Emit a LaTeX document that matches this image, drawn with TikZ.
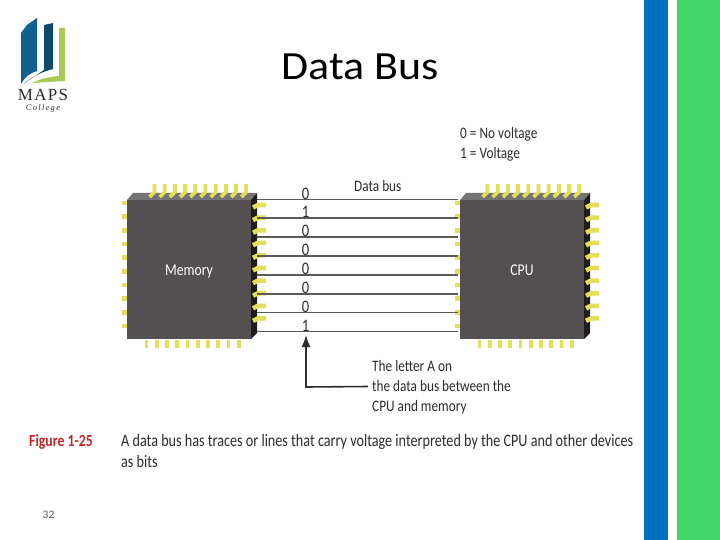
\documentclass[tikz,border=0pt]{standalone}
\usepackage{fontspec}
\setmainfont{Carlito}
\newfontfamily\logofont[LetterSpace=8]{Liberation Serif}
\newfontfamily\logosubfont[LetterSpace=15]{Liberation Serif}
\newfontfamily\condfont[FakeStretch=0.83]{Carlito}
\newfontfamily\capfont[FakeStretch=0.81]{Carlito}
\newfontfamily\wideont[FakeStretch=1.1]{Carlito}
\usetikzlibrary{arrows.meta}
\definecolor{chipfront}{HTML}{545051}
\definecolor{chiptop}{HTML}{757374}
\definecolor{chipside}{HTML}{1E1C1D}
\definecolor{pin}{HTML}{E2DF5A}
\definecolor{busline}{HTML}{5A5A5A}
\definecolor{txt}{HTML}{2E2C2D}
\definecolor{figred}{HTML}{C4262B}
\definecolor{barblue}{HTML}{0070C0}
\definecolor{bargreen}{HTML}{3FD869}
\definecolor{logoblue}{HTML}{0F628F}
\definecolor{logodark}{HTML}{0E4A6C}
\definecolor{logogreen}{HTML}{A9CB55}
\tikzset{
  chip/.style={draw=none,fill=chipfront,inner sep=0pt,minimum width=124pt,minimum height=139pt,text height=11pt,text depth=0pt,text=white,font=\condfont\fontsize{16.5}{16.5}\selectfont},
  pinline/.style={draw=pin,line width=3.8pt},
  sidepin/.style={draw=pin,line width=4.6pt},
  bus/.style={draw=busline,line width=1.5pt},
  bit/.style={inner sep=0pt,text=txt,font=\condfont\fontsize{17.5}{17.5}\selectfont},
  lbl/.style={inner sep=0pt,anchor=west,text=txt,font=\condfont\fontsize{16}{16}\selectfont},
  captext/.style={inner sep=0pt,anchor=west,text=txt,font=\capfont\fontsize{17.5}{17.5}\selectfont},
  pointer/.style={draw=txt,line width=1.6pt,-{Latex[length=12pt,width=9pt]}},
}
\newcommand{\chipbody}[3]{%
  % #1 = front left x, #2 = node name, #3 = label
  \fill[chiptop] (#1,200) -- (#1+6,193) -- (#1+130,193) -- (#1+124,200) -- cycle;
  \fill[chipside] (#1+124,200) -- (#1+130,193) -- (#1+130,333) -- (#1+124,339) -- cycle;
  \foreach \i in {0,...,9} {
    \draw[pinline] (#1+27.5+10.2*\i,184) -- (#1+27.5+10.2*\i,192) -- (#1+22.5+10.2*\i,197);
    \draw[pinline] (#1+19.5+10.25*\i,340) -- (#1+19.5+10.25*\i,348);
    \draw[sidepin] (#1-5,203+13.65*\i) -- (#1+1,203+13.65*\i);
    \draw[sidepin] (#1+126,207.5+12.6*\i) -- (#1+131,205+12.6*\i) -- (#1+139,205+12.6*\i);
  }
  \node[chip] (#2) at (#1+62,269.5) {#3};
}
\begin{document}
\begin{tikzpicture}[x=1pt,y=-1pt]
\useasboundingbox (0,0) rectangle (720,540);
\fill[white] (0,0) rectangle (720,540);
\fill[barblue] (644,0) rectangle (668,540);
\fill[bargreen] (677,0) rectangle (720,540);

% logo
\fill[logoblue] (21,33) -- (27,25) -- (37,18) -- (37,71) .. controls (30,73) and (25,77) .. (21,84) -- cycle;
\fill[logodark] (44,25) -- (53,23) -- (53,69) .. controls (42,72) and (32,76) .. (24,84) .. controls (31,78) and (38,74) .. (44,70) -- cycle;
\fill[logogreen] (59,28) -- (65,28) -- (65,81) -- (32,83) .. controls (42,78) and (50,77) .. (59,76) -- cycle;
\node[inner sep=0pt,text=txt,font=\logofont\fontsize{17}{17}\selectfont] (logoname) at (43,95) {MAPS};
\node[inner sep=0pt,text=txt,font=\logosubfont\itshape\fontsize{8.5}{8.5}\selectfont] (logosub) at (43,108) {College};

\node[inner sep=0pt,text=black,font=\wideont\fontsize{40}{40}\selectfont] (title) at (360.5,67) {Data Bus};

\chipbody{127}{memory}{Memory}
\chipbody{460}{cpu}{CPU}

% bus lines
\foreach \n/\y/\d in {a/199.5/0,b/218/1,c/237/0,d/256/0,e/275/0,f/294/0,g/312.5/0,h/331.5/1} {
  \coordinate (l\n) at (257,\y);
  \coordinate (r\n) at (458,\y);
  \draw[bus] (l\n) -- (r\n);
  \node[bit] (bit\n) at (305.5,\y-6) {\d};
}

\node[lbl] (databus) at (354,186) {Data bus};
\node[lbl] (legend0) at (460,134) {0 = No voltage};
\node[lbl] (legend1) at (460,154.5) {1 = Voltage};

\node[lbl] (note1) at (372,366) {The letter A on};
\node[lbl] (note2) at (372,386.5) {the data bus between the};
\node[lbl] (note3) at (372,407) {CPU and memory};
\coordinate (turn) at (306,387);
\coordinate (tip) at (306,335);
\draw[pointer] (note2.west) ++(-4,0) -- (turn) -- (tip);

\node[inner sep=0pt,anchor=west,text=figred,font=\capfont\bfseries\fontsize{17}{17}\selectfont] (figlabel) at (29,441.5) {Figure 1-25};
\node[captext] (cap1) at (121,441.5) {A data bus has traces or lines that carry voltage interpreted by the CPU and other devices};
\node[captext] (cap2) at (121,461.5) {as bits};
\node[inner sep=0pt,text=black!65,font=\fontsize{11.5}{11.5}\selectfont] (pagenum) at (48.5,515) {32};
\end{tikzpicture}
\end{document}
